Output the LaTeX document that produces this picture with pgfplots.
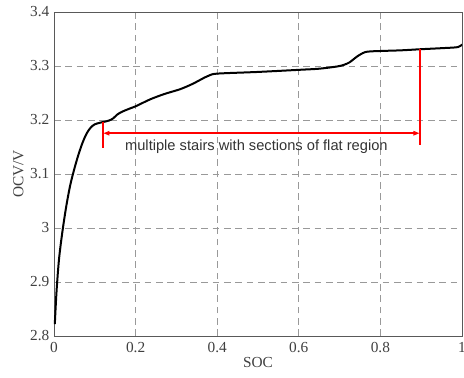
\documentclass[border=0pt]{standalone}
\usepackage{fontspec}
\setmainfont{Liberation Serif}
\newfontfamily\arialfont{Liberation Sans}
\usepackage{pgfplots}
\pgfplotsset{compat=1.18}
\begin{document}
\begin{tikzpicture}
\begin{axis}[
  at={(0,0)}, anchor=south west,
  scale only axis, width=306pt, height=243pt,
  xmin=0, xmax=1, ymin=2.8, ymax=3.4,
  xtick={0,0.2,...,1}, ytick={2.8,2.9,...,3.4},
  xticklabels={0,0.2,0.4,0.6,0.8,1},
  yticklabels={2.8,2.9,3,3.1,3.2,3.3,3.4},
  grid=major,
  major grid style={gray!80, line width=0.6pt, dash pattern=on 5pt off 3.5pt},
  major tick length=0pt,
  axis line style={gray!70!black, line width=0.6pt},
  tick label style={font=\fontsize{11.5}{12}\selectfont, text=black!75},
  xlabel={SOC}, ylabel={OCV/V},
  label style={font=\fontsize{11.5}{12}\selectfont, text=black!75},
  xlabel style={yshift=3pt},
  ylabel style={yshift=-2pt},
  xticklabel style={yshift=-1pt},
  /pgf/number format/assume math mode=true,
]
\addplot[black, line width=1.5pt, smooth, tension=0.5] coordinates {
(0.002,2.822)(0.006,2.88)(0.012,2.94)(0.02,2.99)(0.03,3.04)(0.04,3.08)(0.05,3.11)(0.06,3.136)(0.07,3.158)(0.08,3.175)(0.09,3.186)(0.1,3.192)(0.113,3.195)(0.125,3.197)(0.135,3.199)(0.145,3.203)(0.155,3.21)(0.166,3.215)(0.185,3.221)(0.202,3.226)(0.235,3.238)(0.27,3.248)(0.309,3.257)(0.34,3.267)(0.37,3.279)(0.382,3.283)(0.402,3.286)(0.5,3.289)(0.603,3.293)(0.65,3.295)(0.693,3.299)(0.71,3.302)(0.725,3.307)(0.74,3.316)(0.757,3.324)(0.775,3.327)(0.85,3.329)(0.897,3.331)(0.95,3.333)(0.99,3.335)(1.0,3.34)
};
\addplot[color=red, line width=1.1pt] coordinates {(0.12,3.197)(0.12,3.148)};
\addplot[color=red, line width=1.1pt] coordinates {(0.897,3.331)(0.897,3.154)};
\addplot[color=red, line width=1.6pt] coordinates {(0.128,3.1755)(0.889,3.1755)};
\addplot[draw=none, fill=red] coordinates {(0.1215,3.1755)(0.136,3.18)(0.136,3.171)} -- cycle;
\addplot[draw=none, fill=red] coordinates {(0.8955,3.1755)(0.881,3.18)(0.881,3.171)} -- cycle;
\node[font=\arialfont\fontsize{11}{12}\selectfont, text=black!80] at (axis cs:0.496,3.15) {multiple stairs with sections of flat region};
\end{axis}
\pgfresetboundingbox
\path[use as bounding box] (-40.5pt,-31.5pt) rectangle (307.5pt,252pt);
\end{tikzpicture}
\end{document}
